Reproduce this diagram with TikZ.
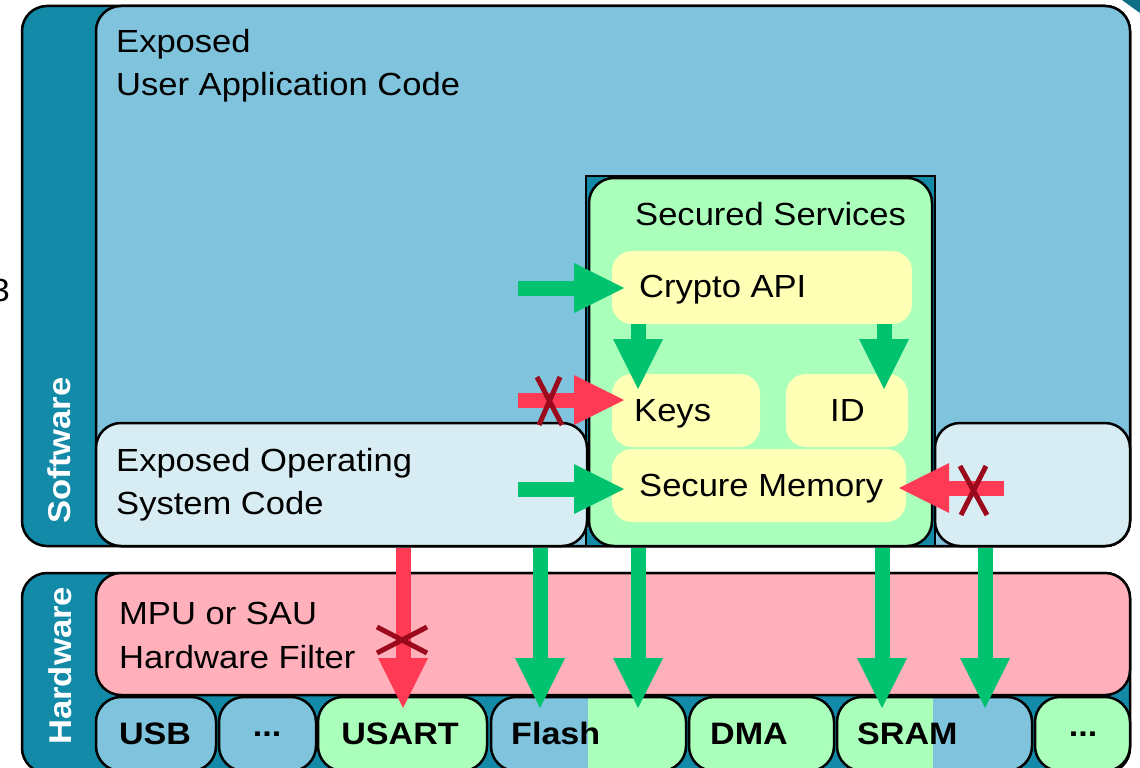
\documentclass[tikz,border=0pt]{standalone}
\usepackage{fontspec}
\setmainfont{Liberation Sans}
\newfontfamily\rfont[FakeStretch=1.08]{Liberation Sans}
\newfontfamily\bfont[FakeStretch=1.10]{Liberation Sans}
\usetikzlibrary{arrows.meta}
\definecolor{tealc}{HTML}{128AA8}
\definecolor{lblue}{HTML}{80C3DD}
\definecolor{pblue}{HTML}{D7EDF3}
\definecolor{sgreen}{HTML}{AAFFBB}
\definecolor{yel}{HTML}{FFFFB6}
\definecolor{pinkc}{HTML}{FFB0BA}
\definecolor{agreen}{HTML}{00C26F}
\definecolor{ared}{HTML}{FF3A55}
\definecolor{xred}{HTML}{9B0A1C}
\begin{document}
\begin{tikzpicture}[x=1pt,y=-1pt,
  box/.style={draw=black, line width=2.5pt, rounded corners=25pt, inner sep=0pt, outer sep=0pt, anchor=north west},
  ybox/.style={fill=yel, rounded corners=20pt, inner sep=0pt, outer sep=0pt, anchor=north west},
  lbl/.style={font=\rfont\fontsize{32}{43.5}\selectfont, inner sep=0pt, align=left},
  blbl/.style={font=\bfont\bfseries\fontsize{31}{36}\selectfont, inner sep=0pt},
  vlbl/.style={font=\bfont\bfseries\fontsize{31.5}{36}\selectfont, text=white, inner sep=0pt, rotate=90, anchor=base west},
  garrow/.style={draw=agreen, line width=15pt, -{Triangle[width=50pt,length=50pt,line width=0pt]}},
  rarrow/.style={draw=ared, line width=15pt, -{Triangle[width=50pt,length=50pt,line width=0pt]}},
  xmark/.style={draw=xred, line width=5pt}]
\useasboundingbox (0,0) rectangle (1140,768);
% fragments at the edges
\node[lbl, anchor=base east] (three) at (10,301) {3};
\fill[tealc!80!black] (1122,0) -- (1140,0) -- (1140,13) -- cycle;
% software layer
\node[box, fill=tealc, minimum width=1108pt, minimum height=540pt] (sw) at (22,6) {};
\node[box, fill=lblue, minimum width=1034pt, minimum height=540pt] (app) at (96,6) {};
\node[box, rounded corners=0pt, fill=tealc, minimum width=349pt, minimum height=370pt] (secback) at (586,176) {};
\node[box, fill=sgreen, minimum width=343pt, minimum height=368pt] (sec) at (589,178) {};
\node[box, fill=pblue, minimum width=491pt, minimum height=123pt] (os) at (96,423) {};
\node[box, fill=pblue, minimum width=195pt, minimum height=123pt] (rbox) at (935,423) {};
\node[ybox, minimum width=300pt, minimum height=73pt] (crypto) at (612,251) {};
\node[ybox, minimum width=148pt, minimum height=73pt] (keys) at (612,374) {};
\node[ybox, minimum width=122pt, minimum height=73pt] (id) at (786,374) {};
\node[ybox, minimum width=294pt, minimum height=73pt] (mem) at (612,449) {};
% hardware layer
\node[box, fill=tealc, minimum width=1108pt, minimum height=200pt] (hw) at (22,573) {};
\node[box, fill=pinkc, minimum width=1034pt, minimum height=122pt] (filt) at (96,573) {};
\node[box, fill=lblue, minimum width=120pt, minimum height=74pt] (usb) at (96,697) {};
\node[box, fill=lblue, minimum width=97pt, minimum height=74pt] (dots1) at (219,697) {};
\node[box, fill=sgreen, minimum width=169pt, minimum height=74pt] (usart) at (318,697) {};
\node[box, fill=lblue, minimum width=195pt, minimum height=74pt,
  path picture={\fill[sgreen, sharp corners] ([xshift=97pt]path picture bounding box.north west) rectangle (path picture bounding box.south east);}] (flash) at (491,697) {};
\node[box, fill=sgreen, minimum width=145pt, minimum height=74pt] (dma) at (689,697) {};
\node[box, fill=sgreen, minimum width=195pt, minimum height=74pt,
  path picture={\fill[lblue, sharp corners] ([xshift=96pt]path picture bounding box.north west) rectangle (path picture bounding box.south east);}] (sram) at (837,697) {};
\node[box, fill=sgreen, minimum width=95pt, minimum height=74pt] (dots2) at (1035,697) {};
% texts
\node[lbl, anchor=north west] (tapp) at (116,29) {Exposed\\User Application Code};
\node[lbl, anchor=base west] (tsec) at (635,225) {Secured Services};
\node[lbl, anchor=base west] (tcrypto) at (639,297) {Crypto API};
\node[lbl, anchor=base west] (tkeys) at (634,421) {Keys};
\node[lbl, anchor=base west] (tid) at (830,421) {ID};
\node[lbl, anchor=base west] (tmem) at (639,496) {Secure Memory};
\node[lbl, anchor=north west] (tos) at (116,448) {Exposed Operating\\System Code};
\node[lbl, anchor=north west] (tfilt) at (119,602) {MPU or SAU\\Hardware Filter};
\node[vlbl] (tsw) at (70,524) {Software};
\node[vlbl] (thw) at (71,745) {Hardware};
\node[blbl, anchor=base] (tusb) at (155,744) {USB};
\node[blbl, anchor=center] (tdots1) at (267,734) {...};
\node[blbl, anchor=base] (tusart) at (400,744) {USART};
\node[blbl, anchor=base west] (tflash) at (511,744) {Flash};
\node[blbl, anchor=base] (tdma) at (749,744) {DMA};
\node[blbl, anchor=base west] (tsram) at (857,744) {SRAM};
\node[blbl, anchor=center] (tdots2) at (1083,734) {...};
% arrow end points
\coordinate (g1s) at (518,288); \coordinate (g1t) at (624,288);
\coordinate (r1s) at (518,400); \coordinate (r1t) at (624,400);
\coordinate (g2s) at (518,489); \coordinate (g2t) at (624,489);
\coordinate (r2s) at (1004,488); \coordinate (r2t) at (899,488);
\coordinate (g3t) at (638,389); \coordinate (g4t) at (884,389);
\coordinate (r3s) at (403,548); \coordinate (r3t) at (403,708);
\coordinate (g5s) at (540,548); \coordinate (g5t) at (540,708);
\coordinate (g6s) at (638,548); \coordinate (g6t) at (638,708);
\coordinate (g7s) at (882,548); \coordinate (g7t) at (882,708);
\coordinate (g8s) at (985,548); \coordinate (g8t) at (985,708);
% arrows
\draw[garrow] (g1s) -- (g1t);
\draw[rarrow] (r1s) -- (r1t);
\draw[garrow] (g2s) -- (g2t);
\draw[rarrow] (r2s) -- (r2t);
\draw[garrow] (g3t |- crypto.south) -- (g3t);
\draw[garrow] (g4t |- crypto.south) -- (g4t);
\draw[rarrow] (r3s) -- (r3t);
\draw[garrow] (g5s) -- (g5t);
\draw[garrow] (g6s) -- (g6t);
\draw[garrow] (g7s) -- (g7t);
\draw[garrow] (g8s) -- (g8t);
% blocked marks
\draw[xmark] (537,377) -- (562,425) (560,377) -- (539,425);
\draw[xmark] (960,466) -- (987,515) (986,466) -- (961,515);
\draw[xmark] (377,627) -- (427,653) (377,653) -- (427,627);
\end{tikzpicture}
\end{document}
